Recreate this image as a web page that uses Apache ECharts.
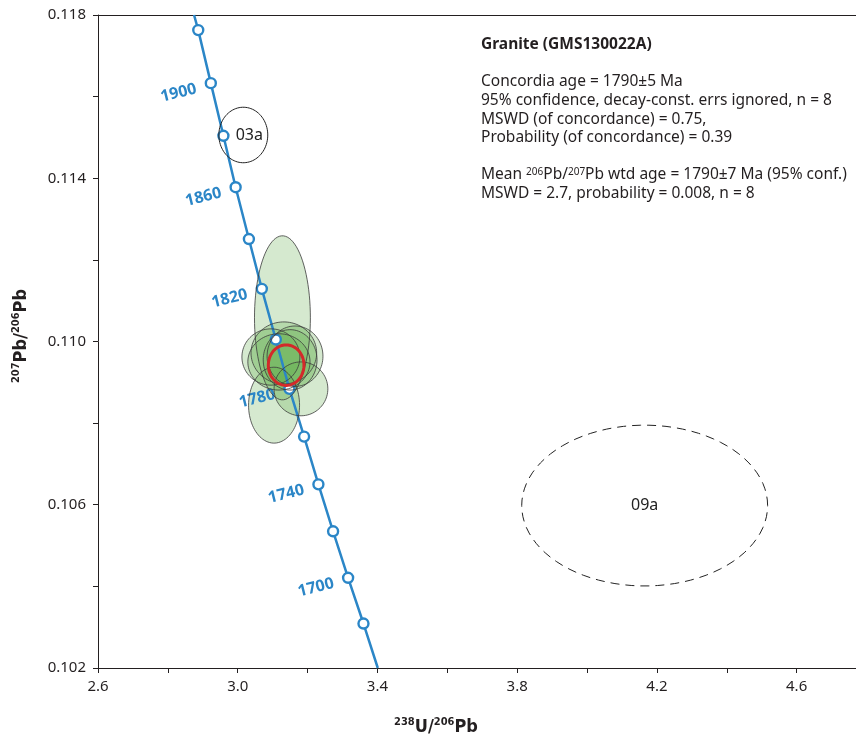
<!DOCTYPE html>
<html>
<head>
<meta charset="utf-8">
<script src="https://cdn.jsdelivr.net/npm/echarts@6/dist/echarts.min.js"></script>
<style>
html, body { margin: 0; padding: 0; background: #fff; }
#main { width: 856px; height: 738px; }
</style>
</head>
<body>
<div id="main"></div>
<script>
// concordia age marks (Ma)
const ages = [1920, 1900, 1880, 1860, 1840, 1820, 1800, 1780, 1760, 1740, 1720, 1700, 1680]
const ageU = [2.887, 2.923, 2.959, 2.994, 3.032, 3.069, 3.109, 3.148, 3.190, 3.231, 3.273, 3.316, 3.360]
const agePb = [0.11763, 0.11633, 0.11504, 0.11378, 0.11251, 0.11129, 0.11005, 0.10884, 0.10767, 0.10650, 0.10535, 0.10421, 0.10309]
const labelledAges = [1900, 1860, 1820, 1780, 1740, 1700]
// where the curve leaves the frame
const curveEndU = [2.875, 3.401]
const curveEndPb = [0.118, 0.102]

// analyses used for the age: centre and half widths of the error ellipse
const grainU = [3.128, 3.104, 3.181, 3.095, 3.132, 3.164, 3.118, 3.150]
const grainPb = [0.11058, 0.10844, 0.10884, 0.10962, 0.10972, 0.10964, 0.10950, 0.10955]
const grainDU = [0.080, 0.073, 0.077, 0.083, 0.094, 0.080, 0.089, 0.077]
const grainDPb = [0.00201, 0.00093, 0.00066, 0.00069, 0.00076, 0.00074, 0.00069, 0.00074]

// rejected analyses
const rejectNames = ['03a', '09a']
const rejectU = [3.016, 4.165]
const rejectPb = [0.11506, 0.10598]
const rejectDU = [0.070, 0.352]
const rejectDPb = [0.00068, 0.00197]

// concordia age ellipse
const ageEllipse = [3.1386, 0.10942, 0.051, 0.000497]

const xTickLabels = ['2.6', '3.0', '3.4', '3.8', '4.2', '4.6']
const yTickLabels = ['0.102', '0.106', '0.110', '0.114', '0.118']

const infoTitle = 'Granite (GMS130022A)'
const infoLines = [
    'Concordia age = 1790±5 Ma',
    '95% confidence, decay-const. errs ignored, n = 8',
    'MSWD (of concordance) = 0.75,',
    'Probability (of concordance) = 0.39',
    '',
    'Mean {s|206}Pb/{s|207}Pb wtd age = 1790±7 Ma (95% conf.)',
    'MSWD = 2.7, probability = 0.008, n = 8'
]

const blue = '#2b86c7'
const ink = '#231f20'
const font = 'Noto Sans'

const main = document.getElementById('main')
let myChart = echarts.init(main)

function ellipsePoints(api, cx, cy, dx, dy) {
    const pts = []
    for (let i = 0; i < 90; i++) {
        const t = i / 90 * Math.PI * 2
        pts.push(api.coord([cx + dx * Math.cos(t), cy + dy * Math.sin(t)]))
    }
    return pts
}

const grainData = grainU.map((u, i) => [u, grainPb[i], grainDU[i], grainDPb[i]])

const infoText = infoLines.map((line, i) => ({
    type: 'text',
    x: 481,
    y: 82 + i * 18.6,
    style: {
        text: line,
        font: `15.5px "${font}"`,
        fill: ink,
        verticalAlign: 'middle',
        rich: {
            n: { fontSize: 15.5, fontFamily: font, fill: ink },
            s: { fontSize: 10, fontFamily: font, verticalAlign: 'top', lineHeight: 12, fill: ink }
        }
    }
}))

const supRich = {
    b: { fontSize: 18, fontWeight: 'bold', fontFamily: 'DejaVu Sans Condensed', fill: ink, lineHeight: 20 },
    s: { fontSize: 11, fontWeight: 'bold', fontFamily: 'DejaVu Sans Condensed', fill: ink, verticalAlign: 'top', lineHeight: 13 }
}

myChart.setOption({
    animation: false,
    grid: { left: 98, top: 15, right: 0, bottom: 70, outerBoundsMode: 'none', containLabel: false },
    xAxis: [{
        type: 'value',
        min: 2.6,
        max: 4.77,
        interval: 0.2,
        axisLine: { show: true, lineStyle: { color: ink, width: 1 } },
        axisTick: { show: true, length: 5, lineStyle: { color: ink } },
        axisLabel: {
            margin: 11,
            color: ink,
            fontSize: 15,
            fontFamily: font,
            formatter: v => xTickLabels.includes(v.toFixed(1)) ? v.toFixed(1) : ''
        },
        splitLine: { show: false }
    }, {
        type: 'value',
        position: 'top',
        min: 2.6,
        max: 4.77,
        axisLine: { show: true, lineStyle: { color: ink, width: 1 } },
        axisTick: { show: false },
        axisLabel: { show: false },
        splitLine: { show: false }
    }],
    yAxis: {
        type: 'value',
        min: 0.102,
        max: 0.118,
        interval: 0.002,
        axisLine: { show: true, lineStyle: { color: ink, width: 1 } },
        axisTick: { show: true, length: 5, lineStyle: { color: ink } },
        axisLabel: {
            margin: 12,
            color: ink,
            fontSize: 15,
            fontFamily: font,
            formatter: v => yTickLabels.includes(v.toFixed(3)) ? v.toFixed(3) : ''
        },
        splitLine: { show: false }
    },
    graphic: [
        {
            type: 'text',
            x: 481,
            y: 45,
            style: { text: infoTitle, font: `bold 15.5px "${font}"`, fill: ink, verticalAlign: 'middle' }
        },
        ...infoText,
        {
            type: 'text',
            x: 436,
            y: 727,
            style: { text: '{s|238}{b|U/}{s|206}{b|Pb}', align: 'center', verticalAlign: 'middle', rich: supRich }
        },
        {
            type: 'text',
            x: 21,
            y: 336,
            rotation: Math.PI / 2,
            style: { text: '{s|207}{b|Pb/}{s|206}{b|Pb}', align: 'center', verticalAlign: 'middle', rich: supRich }
        }
    ],
    series: [
        {
            // ellipse fills
            type: 'custom',
            z: 1,
            data: grainData,
            encode: { x: 0, y: 1 },
            renderItem: (params, api) => ({
                type: 'polygon',
                shape: { points: ellipsePoints(api, api.value(0), api.value(1), api.value(2), api.value(3)) },
                style: { fill: 'rgba(100,172,76,0.27)', stroke: null }
            })
        },
        {
            type: 'line',
            z: 2,
            symbol: 'none',
            data: [[curveEndU[0], curveEndPb[0]], ...ageU.map((u, i) => [u, agePb[i]]), [curveEndU[1], curveEndPb[1]]],
            lineStyle: { color: blue, width: 2.5 },
            silent: true
        },
        {
            type: 'scatter',
            z: 3,
            symbol: 'circle',
            symbolSize: 10,
            itemStyle: { color: '#fff', borderColor: blue, borderWidth: 2.4, opacity: 1 },
            data: ageU.map((u, i) => ({
                value: [u, agePb[i]],
                label: { show: labelledAges.includes(ages[i]) }
            })),
            label: {
                position: [-26, 16],
                align: 'center',
                verticalAlign: 'middle',
                rotate: 14,
                color: blue,
                fontSize: 16,
                fontWeight: 'bold',
                fontFamily: font,
                formatter: p => String(ages[p.dataIndex])
            }
        },
        {
            // ellipse outlines
            type: 'custom',
            z: 4,
            data: grainData,
            encode: { x: 0, y: 1 },
            renderItem: (params, api) => ({
                type: 'polygon',
                shape: { points: ellipsePoints(api, api.value(0), api.value(1), api.value(2), api.value(3)) },
                style: { fill: 'none', stroke: '#3b3b3b', lineWidth: 0.8 }
            })
        },
        {
            type: 'custom',
            z: 4,
            data: rejectU.map((u, i) => [u, rejectPb[i], rejectDU[i], rejectDPb[i]]),
            encode: { x: 0, y: 1 },
            renderItem: (params, api) => {
                const c = api.coord([api.value(0), api.value(1)])
                return {
                    type: 'group',
                    children: [{
                        type: 'polygon',
                        shape: { points: ellipsePoints(api, api.value(0), api.value(1), api.value(2), api.value(3)) },
                        style: { fill: 'none', stroke: '#222', lineWidth: 1, lineDash: params.dataIndex === 1 ? [9, 6] : null }
                    }, {
                        type: 'text',
                        x: c[0] + (params.dataIndex === 0 ? 6 : 0),
                        y: c[1],
                        style: { text: rejectNames[params.dataIndex], align: 'center', verticalAlign: 'middle', font: `16px "${font}"`, fill: '#222' }
                    }]
                }
            }
        },
        {
            type: 'custom',
            z: 5,
            data: [ageEllipse],
            encode: { x: 0, y: 1 },
            renderItem: (params, api) => ({
                type: 'polygon',
                shape: { points: ellipsePoints(api, api.value(0), api.value(1), api.value(2), api.value(3)) },
                style: { fill: 'none', stroke: '#d32a2a', lineWidth: 3 }
            })
        }
    ]
})
</script>
</body>
</html>
